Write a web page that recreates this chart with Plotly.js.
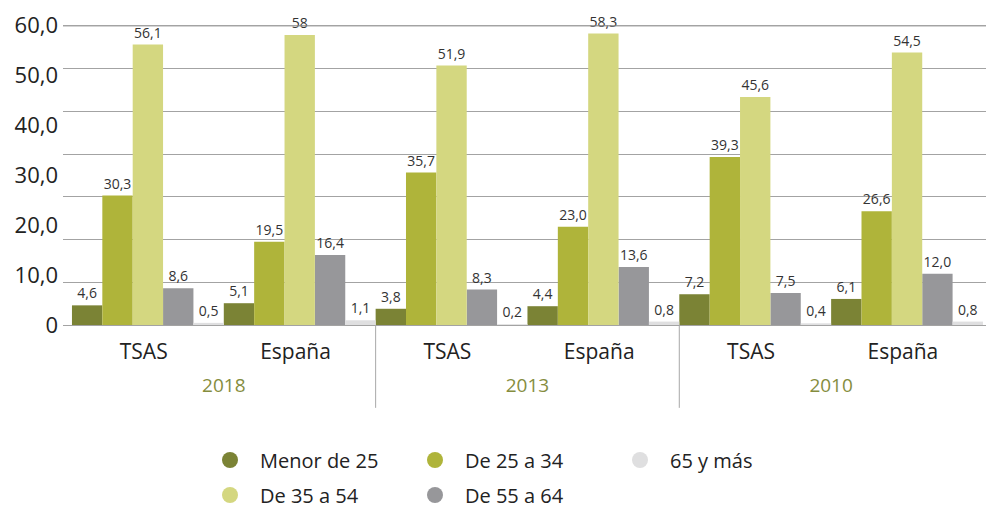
<!DOCTYPE html>
<html><head><meta charset="utf-8">
<script src="https://cdn.plot.ly/plotly-3.0.1.min.js"></script>
<style>html,body{margin:0;padding:0;background:#fff}</style>
</head><body><div id="chart" style="width:986px;height:508px"></div>
<script>
// ---- data ----
const years = ["2018", "2018", "2013", "2013", "2010", "2010"];
const groups = ["TSAS", "España", "TSAS", "España", "TSAS", "España"];
const seriesNames = ["Menor de 25", "De 25 a 34", "De 35 a 54", "De 55 a 64", "65 y más"];
const menor25 = [4.6, 5.1, 3.8, 4.4, 7.2, 6.1];
const de25a34 = [30.3, 19.5, 35.7, 23.0, 39.3, 26.6];
const de35a54 = [56.1, 58, 51.9, 58.3, 45.6, 54.5];
const de55a64 = [8.6, 16.4, 8.3, 13.6, 7.5, 12.0];
const mas65 = [0.5, 1.1, 0.2, 0.8, 0.4, 0.8];
const menor25Labels = ["4,6", "5,1", "3,8", "4,4", "7,2", "6,1"];
const de25a34Labels = ["30,3", "19,5", "35,7", "23,0", "39,3", "26,6"];
const de35a54Labels = ["56,1", "58", "51,9", "58,3", "45,6", "54,5"];
const de55a64Labels = ["8,6", "16,4", "8,3", "13,6", "7,5", "12,0"];
const mas65Labels = ["0,5", "1,1", "0,2", "0,8", "0,4", "0,8"];
const yTickVals = [0, 10, 20, 30, 40, 50, 60];
const yTickText = ["0", "10,0", "20,0", "30,0", "40,0", "50,0", "60,0"];

// ---- styles ----
const colors = ["#7b8335", "#afb43a", "#d4d780", "#97979a", "#dfdfe0"];
const seriesAxis = ["y", "y", "y2", "y", "y"];
const legendOf = ["legend", "legend", "legend2", "legend2", "legend"];
const legendOrder = [1, 2, 1, 2, 3];
const gridColor = "#a3a3a3";
const yRange = [0, 72.1];
const gridVals = [];
for (let g = 0; g <= 70; g += 10) gridVals.push(g);

const values = [menor25, de25a34, de35a54, de55a64, mas65];
const labels = [menor25Labels, de25a34Labels, de35a54Labels, de55a64Labels, mas65Labels];
const yearsStyled = years.map(y => '<span style="color:#858d3e;font-size:19px">' + y + '</span>');
const groupsStyled = groups.map(g => g + '<span style="font-size:32px">\u00A0</span>');

const traces = [];
values.forEach((vals, i) => {
  traces.push({
    type: "bar",
    name: seriesNames[i],
    x: [yearsStyled, groupsStyled],
    y: vals,
    yaxis: seriesAxis[i],
    text: labels[i],
    textposition: "outside",
    constraintext: "none",
    cliponaxis: false,
    textfont: {family: "Open Sans", size: 14, color: "#333"},
    marker: {color: colors[i], line: {width: 0}},
    width: 0.2,
    offset: -0.5 + i * 0.2,
    showlegend: false,
    hoverinfo: "skip"
  });
});
values.forEach((vals, i) => {
  traces.push({
    type: "scatter",
    mode: "markers",
    name: seriesNames[i],
    x: [null], y: [null],
    xaxis: "x2", yaxis: "y3",
    marker: {symbol: "circle", size: 20, color: colors[i]},
    legend: legendOf[i],
    legendrank: legendOrder[i],
    hoverinfo: "skip"
  });
});

// dividers between year groups, derived from the data
const shapes = [];
for (let i = 1; i < years.length; i++) {
  if (years[i] !== years[i - 1]) {
    shapes.push({type: "line", xref: "x", yref: "paper", x0: i - 0.5, x1: i - 0.5,
      y0: 0, y1: -0.269, line: {color: "#a8a8a8", width: 1}});
  }
}
// top grid line (paper-referenced so it is never clipped)
const topGridPaper = gridVals[gridVals.length - 1] / yRange[1];
shapes.push({type: "line", xref: "paper", yref: "paper", x0: 0, x1: 1,
  y0: topGridPaper, y1: topGridPaper, layer: "above", line: {color: gridColor, width: 1}});

const legendBase = {
  orientation: "h", xref: "container", yref: "container",
  font: {family: "Open Sans", size: 20, color: "#222"},
  itemwidth: 50, entrywidth: 140, entrywidthmode: "pixels",
  bgcolor: "rgba(0,0,0,0)", itemsizing: "trace",
  xanchor: "left", yanchor: "middle"
};

const layout = {
  width: 986, height: 508,
  margin: {l: 63, r: 0, t: 17, b: 183},
  paper_bgcolor: "#fff", plot_bgcolor: "#fff",
  font: {family: "Open Sans", color: "#222"},
  barmode: "overlay",
  showlegend: true,
  xaxis: {
    type: "multicategory", range: [-0.559, 5.52],
    showdividers: false, showgrid: false, zeroline: false, showline: false, ticks: "",
    ticklabelstandoff: 12,
    tickfont: {family: "Open Sans", size: 21, color: "#222"}
  },
  yaxis: {
    range: yRange, tickmode: "array", tickvals: gridVals, showticklabels: false,
    showgrid: true, gridcolor: gridColor, gridwidth: 1,
    zeroline: true, zerolinecolor: gridColor, zerolinewidth: 1, ticks: "", showline: false
  },
  yaxis2: {
    overlaying: "y", side: "left", range: [0, 61.6],
    tickmode: "array", tickvals: yTickVals, ticktext: yTickText,
    showgrid: false, zeroline: false, ticks: "", showline: false,
    ticklabelstandoff: 4,
    tickfont: {family: "Open Sans", size: 22, color: "#222"}
  },
  xaxis2: {visible: false, domain: [0, 0.001], anchor: "y3", range: [0, 1]},
  yaxis3: {visible: false, domain: [0, 0.001], anchor: "x2", range: [0, 1]},
  legend: Object.assign({}, legendBase, {x: 200 / 986, y: 1 - 460 / 508}),
  legend2: Object.assign({}, legendBase, {x: 200 / 986, y: 1 - 495 / 508}),
  shapes: shapes
};

Plotly.newPlot("chart", traces, layout, {displayModeBar: false, staticPlot: true});
</script>
</body></html>
